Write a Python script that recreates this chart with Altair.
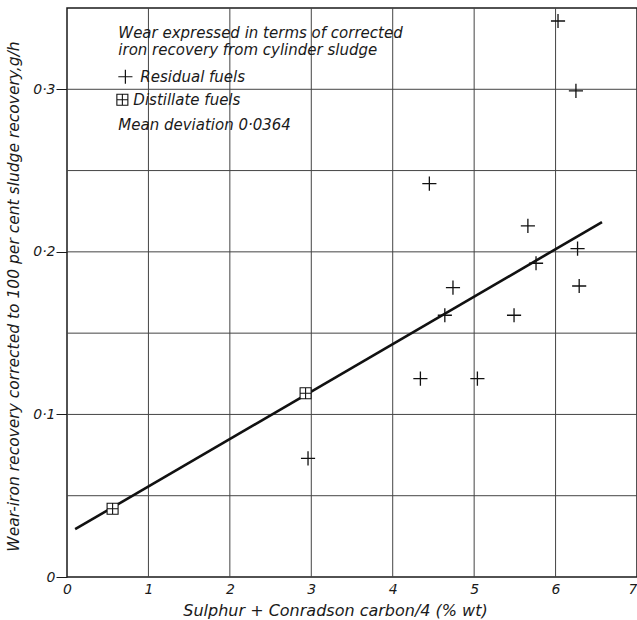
import altair as alt
import pandas as pd

# ---- data ----
res_x = [2.96, 4.34, 5.04, 4.64, 4.74, 5.49, 6.03, 6.25, 4.45, 5.66, 6.27, 5.76, 6.29]
res_y = [0.073, 0.122, 0.122, 0.161, 0.178, 0.161, 0.342, 0.299, 0.242, 0.216, 0.202, 0.193, 0.179]
dist_x = [0.56, 2.93]
dist_y = [0.042, 0.113]
fit_x = [0.10, 6.57]
fit_y = [0.0294, 0.2183]
x_grid = [1, 2, 3, 4, 5, 6]
y_grid = [0.05, 0.10, 0.15, 0.20, 0.25, 0.30]
x_ticks = [0, 1, 2, 3, 4, 5, 6, 7]
y_ticks = [0, 0.1, 0.2, 0.3]

note_text = ["Wear expressed in terms of corrected",
             "iron recovery from cylinder sludge",
             "Residual fuels",
             "Distillate fuels",
             "Mean deviation 0·0364"]
note_x = [0.63, 0.63, 0.90, 0.815, 0.63]
note_y = [0.3348, 0.3243, 0.3077, 0.2936, 0.2782]
legend_res = ([0.717], [0.3077])
legend_dist = ([0.68], [0.2936])

FONT = "DejaVu Sans"
INK = "#1a1a1a"
PLUS = "M-1,0L1,0M0,-1L0,1"
BOXPLUS = "M-1,-1L1,-1L1,1L-1,1Z M-1,0L1,0 M0,-1L0,1"

xs = alt.Scale(domain=[0, 7], nice=False, zero=False)
ys = alt.Scale(domain=[0, 0.35], nice=False, zero=False)

x_axis = alt.Axis(values=x_ticks, grid=False, domain=False, ticks=False,
                  labelExpr="format(datum.value, 'd')",
                  labelAlign={"condition": {"test": "datum.value == 7", "value": "right"},
                              "value": "center"},
                  labelFont=FONT, labelFontStyle="italic", labelFontSize=14,
                  labelColor=INK, labelPadding=5, labelFlush=False,
                  title="Sulphur + Conradson carbon/4 (% wt)",
                  titleFont=FONT, titleFontStyle="italic", titleFontWeight="normal",
                  titleFontSize=16, titleColor=INK, titleX=268, titleY=25,
                  titleAlign="center", titleBaseline="top")
y_axis = alt.Axis(values=y_ticks, grid=False, domain=False, ticks=True,
                  tickSize=11, tickColor=INK, tickWidth=1,
                  labelExpr="datum.value == 0 ? '0' : replace(format(datum.value, '.1f'), '.', '·')",
                  labelFont=FONT, labelFontStyle="italic", labelFontSize=14,
                  labelColor=INK, labelPadding=1, labelFlush=False,
                  title="Wear-iron recovery corrected to 100 per cent sludge recovery,g/h",
                  titleFont=FONT, titleFontStyle="italic", titleFontWeight="normal",
                  titleFontSize=15.5, titleColor=INK, titleX=-54, titleY=288,
                  titleAngle=270, titleAlign="center", titleBaseline="middle")

vgrid = alt.Chart(pd.DataFrame({"x": x_grid})).mark_rule(color="#444", strokeWidth=1).encode(
    x=alt.X("x:Q", scale=xs, axis=x_axis))
hgrid = alt.Chart(pd.DataFrame({"y": y_grid})).mark_rule(color="#444", strokeWidth=1).encode(
    y=alt.Y("y:Q", scale=ys, axis=y_axis))

fit = alt.Chart(pd.DataFrame({"x": fit_x, "y": fit_y})).mark_line(
    color="#111", strokeWidth=2.6).encode(
    x=alt.X("x:Q", scale=xs), y=alt.Y("y:Q", scale=ys))

res = alt.Chart(pd.DataFrame({"x": res_x, "y": res_y})).mark_point(
    shape=PLUS, size=200, filled=False, stroke="#111", strokeWidth=1.3, opacity=1).encode(
    x=alt.X("x:Q", scale=xs), y=alt.Y("y:Q", scale=ys))

dist = alt.Chart(pd.DataFrame({"x": dist_x, "y": dist_y})).mark_point(
    shape=BOXPLUS, size=121, fill="white", fillOpacity=1, stroke="#111",
    strokeWidth=1.1, opacity=1).encode(
    x=alt.X("x:Q", scale=xs), y=alt.Y("y:Q", scale=ys))

notes = alt.Chart(pd.DataFrame({"x": note_x, "y": note_y, "t": note_text})).mark_text(
    align="left", baseline="middle", font=FONT, fontStyle="italic", fontSize=15,
    color=INK).encode(
    x=alt.X("x:Q", scale=xs), y=alt.Y("y:Q", scale=ys), text="t:N")

leg_res = alt.Chart(pd.DataFrame({"x": legend_res[0], "y": legend_res[1]})).mark_point(
    shape=PLUS, size=200, filled=False, stroke="#111", strokeWidth=1.2, opacity=1).encode(
    x=alt.X("x:Q", scale=xs), y=alt.Y("y:Q", scale=ys))
leg_dist = alt.Chart(pd.DataFrame({"x": legend_dist[0], "y": legend_dist[1]})).mark_point(
    shape=BOXPLUS, size=121, fill="white", fillOpacity=1, stroke="#111",
    strokeWidth=1.1, opacity=1).encode(
    x=alt.X("x:Q", scale=xs), y=alt.Y("y:Q", scale=ys))

chart = alt.layer(vgrid, hgrid, fit, res, dist, notes, leg_res, leg_dist).properties(
    width=570, height=569,
    autosize=alt.AutoSizeParams(type="none"),
    padding={"left": 67, "top": 8, "right": 0, "bottom": 43},
    background="white",
).configure_view(stroke=INK, strokeWidth=1.5)

chart.save("out.html", embed_options={"renderer": "svg", "actions": False})
